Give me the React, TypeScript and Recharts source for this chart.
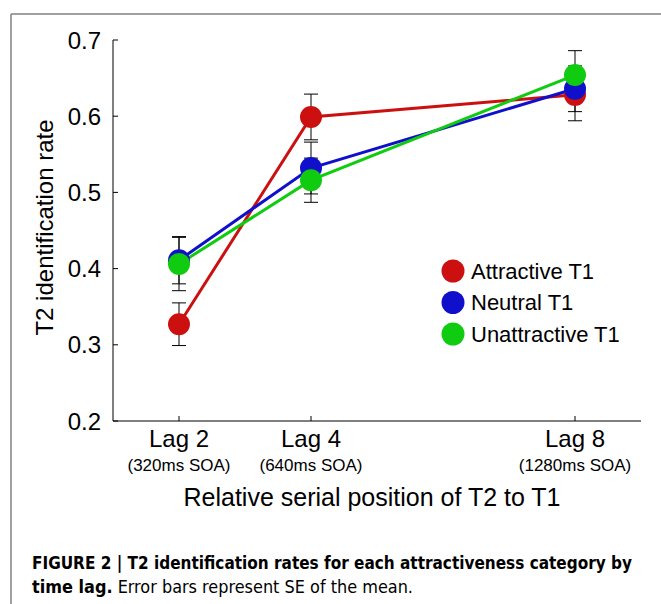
import React from 'react';
import { LineChart, Line, XAxis, YAxis, ErrorBar, Legend } from 'recharts';

const lags = [2, 4, 8];
const lagLabels = ['Lag 2', 'Lag 4', 'Lag 8'];
const soaLabels = ['(320ms SOA)', '(640ms SOA)', '(1280ms SOA)'];
const yTicks = [0.2, 0.3, 0.4, 0.5, 0.6, 0.7];

const attractive = [0.327, 0.599, 0.628];
const attractiveSE = [0.028, 0.03, 0.034];
const neutral = [0.411, 0.532, 0.636];
const neutralSE = [0.031, 0.034, 0.03];
const unattractive = [0.406, 0.516, 0.654];
const unattractiveSE = [0.035, 0.029, 0.032];

const series = [
  { key: 'attractive', name: 'Attractive T1', color: '#cc1010' },
  { key: 'neutral', name: 'Neutral T1', color: '#1010cc' },
  { key: 'unattractive', name: 'Unattractive T1', color: '#10cc10' },
];

const data = lags.map((lag, i) => ({
  lag,
  attractive: attractive[i],
  attractiveSE: attractiveSE[i],
  neutral: neutral[i],
  neutralSE: neutralSE[i],
  unattractive: unattractive[i],
  unattractiveSE: unattractiveSE[i],
}));

const FONT = '"Liberation Sans", Arial, Helvetica, sans-serif';
const NARROW = '"Liberation Sans Narrow", "DejaVu Sans Condensed", "Liberation Sans", sans-serif';

const XTick = (props: any) => {
  const { x, y, payload } = props;
  const i = lags.indexOf(payload.value);
  return (
    <g>
      <line x1={x} x2={x} y1={y} y2={y - 5} stroke="#000" strokeWidth={1} />
      <text x={x} y={y + 26} textAnchor="middle" fontSize={24} fontFamily={FONT} fill="#000">
        {lagLabels[i]}
      </text>
      <text x={x} y={y + 50} textAnchor="middle" fontSize={17} fontFamily={FONT} fill="#000">
        {soaLabels[i]}
      </text>
    </g>
  );
};

const YTick = (props: any) => {
  const { x, y, payload } = props;
  return (
    <g>
      <line x1={x} x2={x + 5} y1={y} y2={y} stroke="#000" strokeWidth={1} />
      <text x={x - 12} y={y + 8.5} textAnchor="end" fontSize={24} fontFamily={FONT} fill="#000">
        {payload.value.toFixed(1)}
      </text>
    </g>
  );
};

const XTitle = (props: any) => {
  const { viewBox } = props;
  return (
    <text
      x={viewBox.x + viewBox.width / 2 - 5}
      y={viewBox.y + 85}
      textAnchor="middle"
      fontSize={25}
      fontFamily={FONT}
      fill="#000"
    >
      Relative serial position of T2 to T1
    </text>
  );
};

const YTitle = (props: any) => {
  const { viewBox } = props;
  const cy = viewBox.y + viewBox.height / 2 - 3;
  return (
    <text
      transform={`translate(${viewBox.x}, ${cy}) rotate(-90)`}
      textAnchor="middle"
      fontSize={24}
      fontFamily={FONT}
      fill="#000"
    >
      T2 identification rate
    </text>
  );
};

const renderLegend = () => (
  <svg width={220} height={100}>
    {series.map((s, i) => (
      <g key={s.key}>
        <circle cx={13} cy={21 + i * 31.5} r={11.5} fill={s.color} />
        <text x={31} y={28.5 + i * 31.5} fontSize={22} fontFamily={FONT} fill="#000">
          {s.name}
        </text>
      </g>
    ))}
  </svg>
);

export default function App() {
  return (
    <div style={{ position: 'absolute', left: 0, top: 0, width: 661, height: 604, background: '#fff' }}>
      <LineChart
        width={661}
        height={604}
        data={data}
        margin={{ top: 40, right: 20, bottom: 103, left: 53 }}
      >
        <XAxis
          type="number"
          dataKey="lag"
          domain={[1, 9]}
          ticks={lags}
          interval={0}
          height={80}
          tickSize={0}
          tickMargin={0}
          tickLine={false}
          axisLine={{ stroke: '#000', strokeWidth: 1 }}
          tick={<XTick />}
          label={<XTitle />}
        />
        <YAxis
          type="number"
          domain={[0.2, 0.7]}
          ticks={yTicks}
          interval={0}
          width={60}
          tickSize={0}
          tickMargin={0}
          tickLine={false}
          axisLine={{ stroke: '#000', strokeWidth: 1 }}
          tick={<YTick />}
          label={<YTitle />}
        />
        <Legend
          layout="horizontal"
          verticalAlign="middle"
          align="center"
          content={renderLegend}
          wrapperStyle={{ left: 440, top: 250, width: 220, height: 100 }}
        />
        {/* lines and error bars first, markers on top */}
        {series.map((s) => (
          <Line
            key={s.key}
            type="linear"
            dataKey={s.key}
            name={s.name}
            stroke={s.color}
            strokeWidth={3}
            dot={false}
            activeDot={false}
            isAnimationActive={false}
            zIndex={300}
          >
            <ErrorBar
              dataKey={`${s.key}SE`}
              direction="y"
              width={7}
              stroke="#000"
              strokeWidth={1}
              isAnimationActive={false}
              zIndex={350}
            />
          </Line>
        ))}
        {series.map((s) => (
          <Line
            key={`${s.key}-dot`}
            type="linear"
            dataKey={s.key}
            stroke="none"
            legendType="none"
            dot={{ r: 11, fill: s.color, stroke: s.color, strokeWidth: 0 }}
            activeDot={false}
            isAnimationActive={false}
            zIndex={800}
          />
        ))}
      </LineChart>
      <svg width={661} height={604} style={{ position: 'absolute', left: 0, top: 0, pointerEvents: 'none' }}>
        <line x1={11} x2={661} y1={14} y2={14} stroke="#808080" strokeWidth={1.5} />
        <line x1={11} x2={11} y1={14} y2={604} stroke="#808080" strokeWidth={1.5} />
        <text
          x={32}
          y={569}
          fontSize={17}
          fontWeight="bold"
          fontFamily={NARROW}
          fill="#000"
          textLength={600}
          lengthAdjust="spacingAndGlyphs"
        >
          FIGURE 2 | T2 identification rates for each attractiveness category by
        </text>
        <text
          x={32}
          y={593}
          fontSize={17}
          fontFamily={NARROW}
          fill="#000"
          textLength={381}
          lengthAdjust="spacingAndGlyphs"
        >
          <tspan fontWeight="bold">time lag.</tspan>
          <tspan> Error bars represent SE of the mean.</tspan>
        </text>
      </svg>
    </div>
  );
}
